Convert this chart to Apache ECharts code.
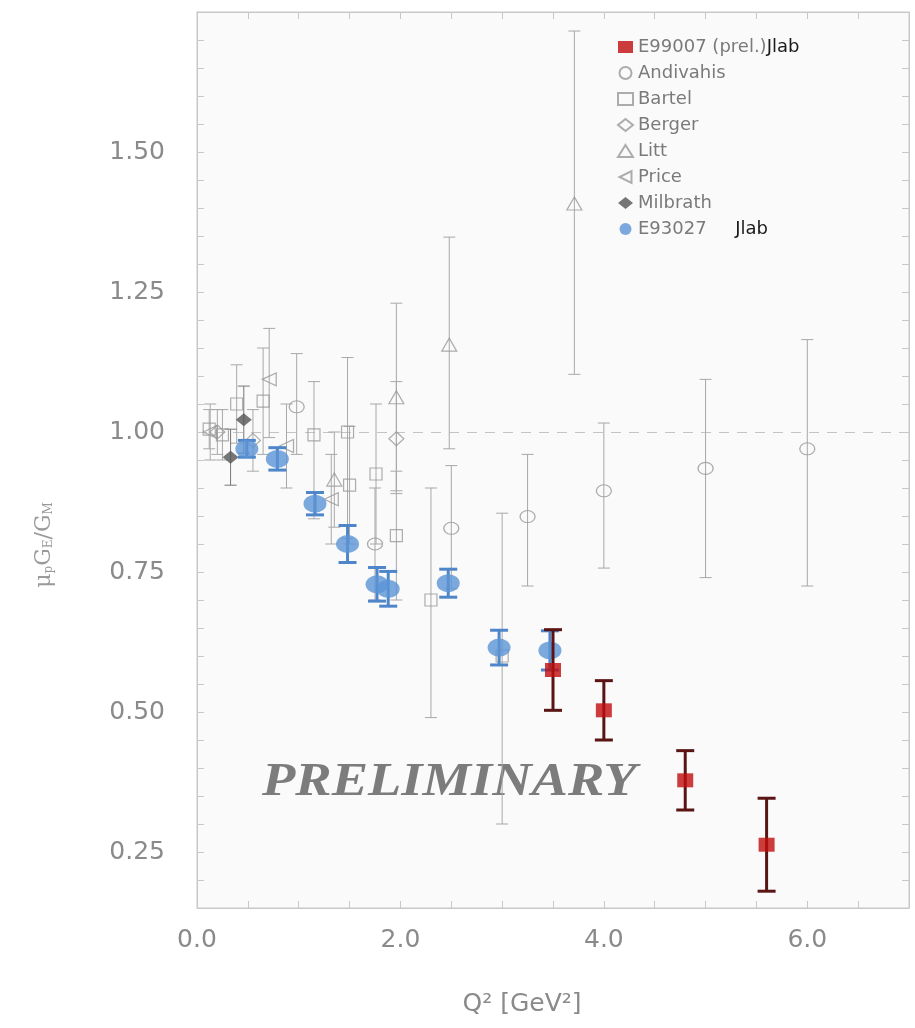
<!DOCTYPE html>
<html>
<head>
<meta charset="utf-8">
<script src="https://cdn.jsdelivr.net/npm/echarts@6/dist/echarts.min.js"></script>
<style>
  html, body { margin: 0; padding: 0; background: #fff; }
  #chart { width: 915px; height: 1028px; }
</style>
</head>
<body>
<div id="chart"></div>
<script>
// ---- data ----
const e99007Q2 = [3.5, 4.0, 4.8, 5.6];
const e99007R = [0.575, 0.503, 0.378, 0.263];
const e99007Err = [0.072, 0.053, 0.053, 0.083];

const e93027Q2 = [0.49, 0.79, 1.16, 1.48, 1.77, 1.88, 2.47, 2.97, 3.47];
const e93027R = [0.970, 0.952, 0.872, 0.800, 0.728, 0.720, 0.730, 0.615, 0.610];
const e93027Err = [0.015, 0.02, 0.02, 0.033, 0.030, 0.031, 0.025, 0.031, 0.035];

const milbrathQ2 = [0.33, 0.46];
const milbrathR = [0.955, 1.022];
const milbrathErr = [0.05, 0.06];

const andivahisQ2 = [0.98, 1.75, 2.5, 3.25, 4.0, 5.0, 6.0];
const andivahisR = [1.045, 0.800, 0.828, 0.849, 0.895, 0.935, 0.970];
const andivahisLo = [0.960, 0.700, 0.720, 0.725, 0.757, 0.740, 0.725];
const andivahisHi = [1.140, 0.900, 0.940, 0.960, 1.016, 1.094, 1.165];

const bartelQ2 = [0.12, 0.25, 0.39, 0.65, 1.15, 1.48, 1.50, 1.76, 1.96, 2.30, 3.00];
const bartelR = [1.005, 0.995, 1.050, 1.055, 0.995, 1.000, 0.905, 0.925, 0.815, 0.700, 0.600];
const bartelLo = [0.970, 0.950, 0.980, 0.960, 0.845, 0.810, 0.800, 0.800, 0.700, 0.490, 0.300];
const bartelHi = [1.040, 1.040, 1.120, 1.150, 1.090, 1.133, 1.010, 1.050, 0.930, 0.900, 0.855];

const bergerQ2 = [0.20, 0.55, 1.96];
const bergerR = [1.000, 0.985, 0.988];
const bergerLo = [0.960, 0.930, 0.890];
const bergerHi = [1.040, 1.040, 1.090];

const littQ2 = [1.35, 1.96, 2.48, 3.71];
const littR = [0.915, 1.062, 1.156, 1.408];
const littLo = [0.830, 0.895, 0.970, 1.103];
const littHi = [1.000, 1.230, 1.348, 1.716];

const priceQ2 = [0.13, 0.71, 0.88, 1.32];
const priceR = [1.000, 1.094, 0.975, 0.880];
const priceLo = [0.950, 0.990, 0.900, 0.800];
const priceHi = [1.050, 1.185, 1.050, 0.960];

const xLabels = [0, 2, 4, 6];
const yLabels = [0.25, 0.5, 0.75, 1.0, 1.25, 1.5];

const GRAY = '#a8a8a8';
const FRAME = '#c8c8c8';

function pts(xs, ys) {
  return xs.map((x, i) => [x, ys[i]]);
}
function barsSym(xs, ys, err) {
  return xs.map((x, i) => [x, ys[i] - err[i], ys[i] + err[i]]);
}
function barsLoHi(xs, lo, hi) {
  return xs.map((x, i) => [x, lo[i], hi[i]]);
}

function errRender(color, width, cap) {
  return function (params, api) {
    const x = api.value(0);
    const top = api.coord([x, api.value(2)]);
    const bot = api.coord([x, api.value(1)]);
    const st = { stroke: color, lineWidth: width };
    return {
      type: 'group',
      children: [
        { type: 'line', shape: { x1: top[0], y1: top[1], x2: bot[0], y2: bot[1] }, style: st },
        { type: 'line', shape: { x1: top[0] - cap, y1: top[1], x2: top[0] + cap, y2: top[1] }, style: st },
        { type: 'line', shape: { x1: bot[0] - cap, y1: bot[1], x2: bot[0] + cap, y2: bot[1] }, style: st }
      ]
    };
  };
}

function errSeries(name, data, color, width, cap, z) {
  return {
    name: name,
    type: 'custom',
    renderItem: errRender(color, width, cap),
    data: data,
    encode: { x: 0, y: [1, 2] },
    silent: true,
    z: z
  };
}

function openScatter(name, data, symbol, size, rotate) {
  return {
    name: name,
    type: 'scatter',
    data: data,
    symbol: symbol,
    symbolSize: size,
    symbolRotate: rotate || 0,
    itemStyle: { color: 'rgba(255,255,255,0)', borderColor: '#999', borderWidth: 1.2 },
    z: 3
  };
}

// axis with ticks pointing into the plot
function frameAxis(extra) {
  return Object.assign({
    type: 'value',
    axisLine: { onZero: false, lineStyle: { color: FRAME } },
    axisTick: { inside: true, length: 7, lineStyle: { color: FRAME } },
    axisLabel: { show: false },
    splitLine: { show: false }
  }, extra);
}

const chart = echarts.init(document.getElementById('chart'));

const labelStyle = { color: '#8a8a8a', fontSize: 25, fontFamily: 'DejaVu Sans' };

const option = {
  backgroundColor: '#ffffff',
  animation: false,
  grid: {
    left: 197, right: 6, top: 12, bottom: 120,
    show: true, backgroundColor: '#fafafa', borderColor: FRAME, borderWidth: 1
  },
  xAxis: [
    frameAxis({
      min: 0, max: 7, interval: 0.5, position: 'bottom',
      name: 'Q² [GeV²]', nameLocation: 'middle', nameGap: 84,
      nameTextStyle: { color: '#8a8a8a', fontSize: 25, fontFamily: 'DejaVu Sans', padding: [0, 62, 0, 0] },
      axisLabel: Object.assign({ customValues: xLabels, margin: 20, formatter: v => v.toFixed(1) }, labelStyle)
    }),
    frameAxis({ min: 0, max: 7, interval: 0.5, position: 'top' })
  ],
  yAxis: [
    frameAxis({
      min: 0.15, max: 1.75, interval: 0.05, position: 'left',
      axisLabel: Object.assign({ customValues: yLabels, margin: 32, formatter: v => v.toFixed(2) }, labelStyle)
    }),
    frameAxis({ min: 0.15, max: 1.75, interval: 0.05, position: 'right' })
  ],
  legend: {
    orient: 'vertical', left: 612, top: 33,
    itemWidth: 15, itemHeight: 12, itemGap: 8,
    data: [
      'E99007 (prel.)', 'Andivahis', 'Bartel', 'Berger', 'Litt',
      { name: 'Price', icon: 'path://M10,0 L10,10 L0,5 Z' },
      'Milbrath', 'E93027'
    ],
    formatter: function (name) {
      if (name === 'E99007 (prel.)') return name + '{j|Jlab}';
      if (name === 'E93027') return name + '     {j|Jlab}';
      return name;
    },
    textStyle: {
      color: '#7a7a7a', fontSize: 18, fontFamily: 'DejaVu Sans',
      rich: { j: { color: '#1a1a1a', fontSize: 18, fontFamily: 'DejaVu Sans' } }
    },
    selectedMode: false
  },
  graphic: [{
    type: 'text', x: 262, y: 783, scaleX: 1.16,
    style: {
      text: 'PRELIMINARY', fill: '#7c7c7c', align: 'left', verticalAlign: 'middle',
      font: 'italic bold 47px "Liberation Serif"'
    },
    z: 1
  }, {
    type: 'text', x: 44, y: 545, rotation: Math.PI / 2,
    style: {
      text: 'μ{s|p}G{s|E}/G{s|M}', fill: '#9a9a9a', align: 'center', verticalAlign: 'middle',
      fontSize: 22, fontFamily: 'DejaVu Serif',
      rich: { s: { fontSize: 12, fill: '#9a9a9a', verticalAlign: 'bottom', fontFamily: 'DejaVu Serif', padding: [10, 0, 0, 0] } }
    }
  }],
  series: [
    errSeries('err-andivahis', barsLoHi(andivahisQ2, andivahisLo, andivahisHi), GRAY, 1, 6, 1),
    errSeries('err-bartel', barsLoHi(bartelQ2, bartelLo, bartelHi), GRAY, 1, 6, 1),
    errSeries('err-berger', barsLoHi(bergerQ2, bergerLo, bergerHi), GRAY, 1, 6, 1),
    errSeries('err-litt', barsLoHi(littQ2, littLo, littHi), GRAY, 1, 6, 1),
    errSeries('err-price', barsLoHi(priceQ2, priceLo, priceHi), GRAY, 1, 6, 1),
    errSeries('err-milbrath', barsSym(milbrathQ2, milbrathR, milbrathErr), '#777', 1, 6, 1),
    errSeries('err-e93027', barsSym(e93027Q2, e93027R, e93027Err), '#4f86c9', 3, 9, 5),
    errSeries('err-e99007', barsSym(e99007Q2, e99007R, e99007Err), '#5a1414', 3, 9, 7),
    {
      name: 'E99007 (prel.)', type: 'scatter', data: pts(e99007Q2, e99007R),
      symbol: 'rect', symbolSize: [16, 14],
      itemStyle: { color: '#c00d0d' }, z: 8,
      markLine: {
        silent: true, symbol: ['none', 'none'], label: { show: false },
        lineStyle: { color: '#c4c4c4', type: [10, 8], width: 1 },
        data: [{ yAxis: 1.0 }], z: 0
      }
    },
    openScatter('Andivahis', pts(andivahisQ2, andivahisR), 'circle', [15, 12]),
    openScatter('Bartel', pts(bartelQ2, bartelR), 'rect', [12, 12]),
    openScatter('Berger', pts(bergerQ2, bergerR), 'diamond', [15, 14]),
    openScatter('Litt', pts(littQ2, littR), 'triangle', [15, 13]),
    openScatter('Price', pts(priceQ2, priceR), 'triangle', [13, 14], 90),
    {
      name: 'Milbrath', type: 'scatter', data: pts(milbrathQ2, milbrathR),
      symbol: 'diamond', symbolSize: [16, 13],
      itemStyle: { color: '#555' }, z: 4
    },
    {
      name: 'E93027', type: 'scatter', data: pts(e93027Q2, e93027R),
      symbol: 'circle', symbolSize: [23, 18],
      itemStyle: { color: '#5b93d6' }, z: 6
    }
  ]
};

chart.setOption(option);
</script>
</body>
</html>
